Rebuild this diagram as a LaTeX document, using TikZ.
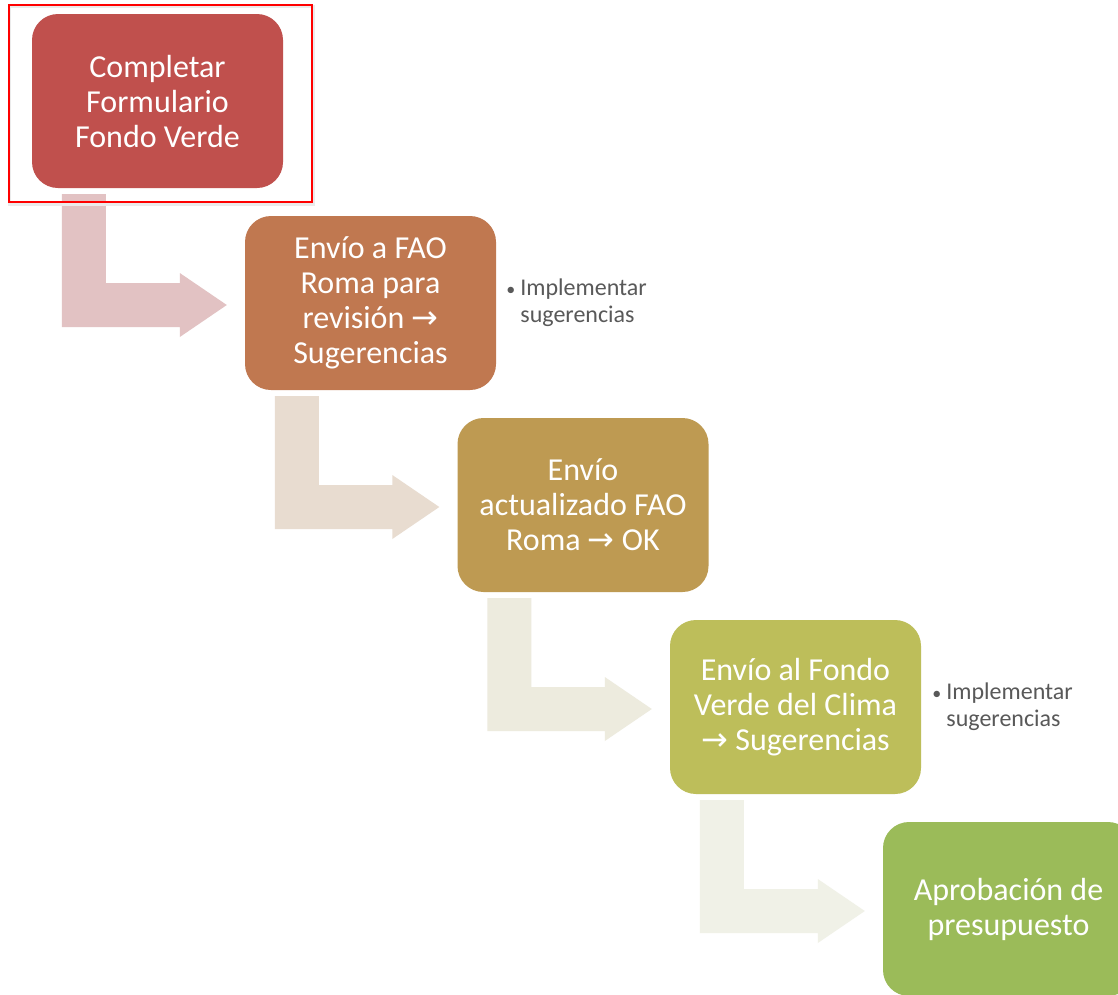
\documentclass[tikz,border=0pt]{standalone}
\usepackage{fontspec}
\setmainfont{Carlito}
\newfontfamily\arrfont{DejaVu Sans}
\usetikzlibrary{calc}
\definecolor{cA}{HTML}{C0504D}
\definecolor{cB}{HTML}{C07850}
\definecolor{cC}{HTML}{BE9A52}
\definecolor{cD}{HTML}{BDBE5A}
\definecolor{cE}{HTML}{9BBB59}
\definecolor{aA}{HTML}{E2C2C3}
\definecolor{aB}{HTML}{E8DCD0}
\definecolor{aC}{HTML}{EDEBDE}
\definecolor{aD}{HTML}{F0F1E7}
\definecolor{noteGray}{HTML}{595959}
\newcommand\arr{{\arrfont\fontsize{32}{35}\selectfont →}}
\newcommand\bentarrow[3]{%
  \path ($(#1.south west)+(30,6)$) coordinate (p1)
        ($(#1.south west)+(74,6)$) coordinate (p2)
        ($(#2.west)+(-65,-20)$) coordinate (p4)
        ($(#2.west)+(-65,24)$) coordinate (p8);
  \fill[#3] (p1) -- (p2) -- (p2 |- p4) -- (p4) -- ($(#2.west)+(-65,-30)$)
     -- ($(#2.west)+(-18,2)$) -- ($(#2.west)+(-65,34)$) -- (p8) -- (p1 |- p8) -- cycle;}
\tikzset{
  stepbox/.style={rectangle, rounded corners=26pt, minimum width=251pt, minimum height=174pt,
    inner sep=0pt, align=center, text=white, font=\fontsize{32}{35}\selectfont},
  notetext/.style={anchor=north west, inner sep=0pt, align=left, text=noteGray,
    font=\fontsize{24}{27}\selectfont}
}
\begin{document}
\begin{tikzpicture}[x=1pt,y=-1pt]
\useasboundingbox (0,0) rectangle (1118,994);
\clip (0,0) rectangle (1118,994);
\fill[white] (0,0) rectangle (1118,994);
\node[stepbox, fill=cA] (b1) at (157.5,101) {Completar\\Formulario\\Fondo Verde};
\node[stepbox, fill=cB] (b2) at (370.5,303) {Envío a FAO\\Roma para\\revisión \arr\\Sugerencias};
\node[stepbox, fill=cC] (b3) at (583,505) {Envío\\actualizado FAO\\Roma \arr{} OK};
\node[stepbox, fill=cD] (b4) at (795.5,707) {Envío al Fondo\\Verde del Clima\\\arr{} Sugerencias};
\node[stepbox, fill=cE] (b5) at (1008.5,909) {Aprobación de\\presupuesto};
\bentarrow{b1}{b2}{aA}
\bentarrow{b2}{b3}{aB}
\bentarrow{b3}{b4}{aC}
\bentarrow{b4}{b5}{aD}
\node[notetext] (n1) at ($(b2.east)+(10,-24)$) {\makebox[14pt][l]{\fontsize{18}{27}\selectfont•}Implementar\\\hspace*{14pt}sugerencias};
\node[notetext] (n2) at ($(b4.east)+(11,-24)$) {\makebox[14pt][l]{\fontsize{18}{27}\selectfont•}Implementar\\\hspace*{14pt}sugerencias};
\draw[black!8, line width=3pt] ($(b1.north west)+(-22,-7)$) rectangle ($(b1.south east)+(30,16)$);
\draw[red, line width=2pt] ($(b1.north west)+(-23,-9)$) rectangle ($(b1.south east)+(29,14)$);
\end{tikzpicture}
\end{document}
